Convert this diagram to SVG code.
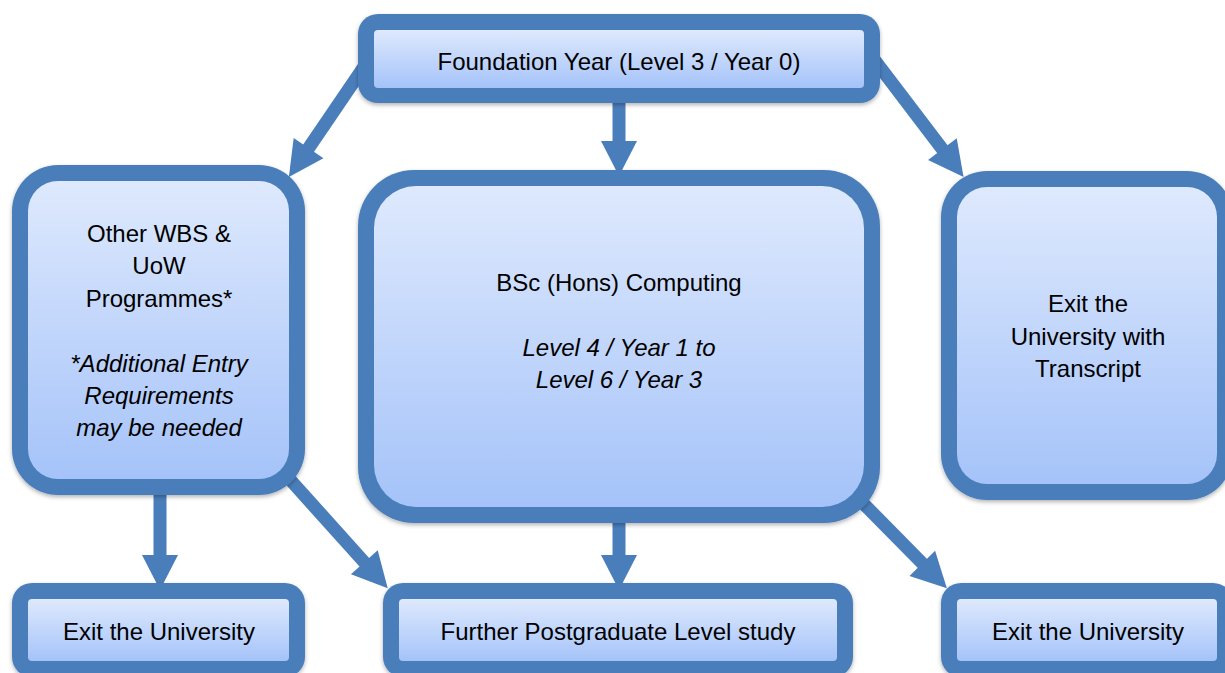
<svg xmlns="http://www.w3.org/2000/svg" width="1225" height="673" viewBox="0 0 1225 673">
<defs>
<linearGradient id="g" x1="0" y1="0" x2="0" y2="1">
<stop offset="0" stop-color="#dee9fd"/>
<stop offset="1" stop-color="#a5c3f9"/>
</linearGradient>
<filter id="sh" x="-10%" y="-10%" width="120%" height="130%">
<feDropShadow dx="0" dy="2" stdDeviation="2" flood-color="#000" flood-opacity="0.3"/>
</filter>
<marker id="ah" markerUnits="userSpaceOnUse" markerWidth="36" markerHeight="38" viewBox="0 -19 35 38" refX="1" refY="0" orient="auto" overflow="visible">
<path d="M0,-18 L35,0 L0,18 Z" fill="#4a7ebb"/>
</marker>
<style>
.b{fill:#4a7ebb;filter:url(#sh)}
.f{fill:url(#g)}
.t{font-family:"Liberation Sans",Arial,sans-serif;font-size:24px;fill:#000;text-anchor:middle}
.i{font-style:italic}
.c{stroke:#4a7ebb;stroke-width:13;fill:none;marker-end:url(#ah)}
</style>
</defs>
<rect width="1225" height="673" fill="#fff"/>
<g id="connectors">
<line class="c" x1="372" y1="55" x2="308" y2="149"/>
<line class="c" x1="619" y1="95" x2="619" y2="142"/>
<line class="c" x1="873" y1="58" x2="943" y2="150"/>
<line class="c" x1="160" y1="480" x2="160" y2="556"/>
<line class="c" x1="285" y1="474" x2="365" y2="563"/>
<line class="c" x1="619" y1="510" x2="619" y2="556"/>
<line class="c" x1="850" y1="490" x2="923" y2="564"/>
</g>
<g id="foundation">
<rect class="b" x="358" y="14" width="522" height="89" rx="20"/>
<rect class="f" x="374" y="30" width="490" height="58" rx="4"/>
<text class="t" x="619" y="70">Foundation Year (Level 3 / Year 0)</text>
</g>
<g id="other">
<rect class="b" x="12" y="165" width="293" height="330" rx="46"/>
<rect class="f" x="28" y="181" width="261" height="298" rx="30"/>
<text class="t" x="159" y="242">Other WBS &amp;</text>
<text class="t" x="159" y="274">UoW</text>
<text class="t" x="159" y="307">Programmes*</text>
<text class="t i" x="159" y="372">*Additional Entry</text>
<text class="t i" x="159" y="404">Requirements</text>
<text class="t i" x="159" y="436">may be needed</text>
</g>
<g id="bsc">
<rect class="b" x="358" y="170" width="522" height="353" rx="56"/>
<rect class="f" x="374" y="186" width="490" height="321" rx="42"/>
<text class="t" x="619" y="291">BSc (Hons) Computing</text>
<text class="t i" x="619" y="356">Level 4 / Year 1 to</text>
<text class="t i" x="619" y="388">Level 6 / Year 3</text>
</g>
<g id="transcript">
<rect class="b" x="941" y="171" width="292" height="329" rx="46"/>
<rect class="f" x="957" y="187" width="260" height="297" rx="30"/>
<text class="t" x="1088" y="312">Exit the</text>
<text class="t" x="1088" y="345">University with</text>
<text class="t" x="1088" y="377">Transcript</text>
</g>
<g id="exit-left">
<rect class="b" x="12" y="583" width="293" height="94" rx="20"/>
<rect class="f" x="28" y="599" width="261" height="62" rx="4"/>
<text class="t" x="159" y="640">Exit the University</text>
</g>
<g id="postgrad">
<rect class="b" x="383" y="583" width="470" height="94" rx="20"/>
<rect class="f" x="399" y="599" width="438" height="62" rx="4"/>
<text class="t" x="618" y="640">Further Postgraduate Level study</text>
</g>
<g id="exit-right">
<rect class="b" x="941" y="583" width="292" height="94" rx="20"/>
<rect class="f" x="957" y="599" width="260" height="62" rx="4"/>
<text class="t" x="1088" y="640">Exit the University</text>
</g>
</svg>
